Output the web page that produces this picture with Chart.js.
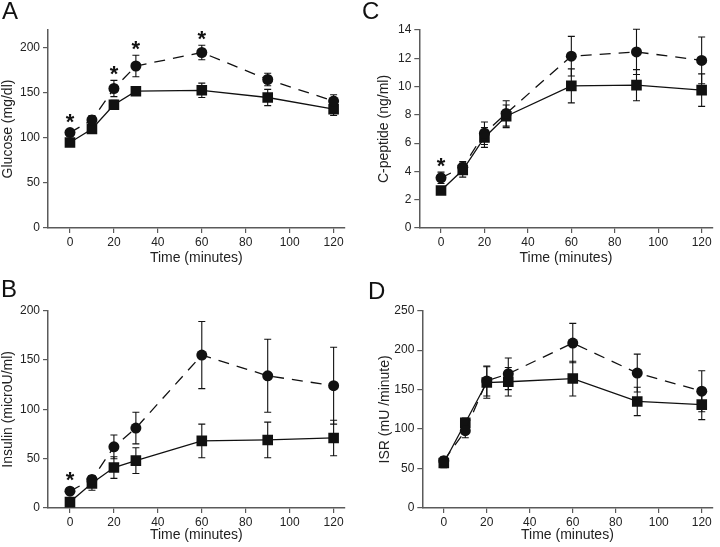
<!DOCTYPE html>
<html>
<head>
<meta charset="UTF-8">
<title>OGTT panels</title>
<script src="https://cdn.jsdelivr.net/npm/chart.js"></script>
<style>
    body { margin: 0; background: #fff; }
    #wrap { position: relative; width: 720px; height: 547px; overflow: hidden; font-family: "Liberation Sans", Arial, sans-serif; }
    .panel { position: absolute; }
    .panel canvas { display: block; }
    .tag { position: absolute; font-size: 24px; line-height: 1; color: #111; }
</style>
</head>
<body>
<div id="wrap">
    <div class="panel" style="left:0;top:0"><canvas id="cA" width="360" height="270"></canvas></div>
    <div class="panel" style="left:0;top:270px"><canvas id="cB" width="360" height="277"></canvas></div>
    <div class="panel" style="left:360px;top:0"><canvas id="cC" width="360" height="270"></canvas></div>
    <div class="panel" style="left:360px;top:270px"><canvas id="cD" width="360" height="277"></canvas></div>
    <div class="tag" style="left:2px;top:-1px">A</div>
    <div class="tag" style="left:1px;top:277px">B</div>
    <div class="tag" style="left:362px;top:-1px">C</div>
    <div class="tag" style="left:368px;top:279px">D</div>
</div>

<script>
    // sampling times (minutes) and x tick labels
    var times = [0, 10, 20, 30, 60, 90, 120];
    var timeTicks = [0, 20, 40, 60, 80, 100, 120];

    // A: glucose
    var glucoseCircle = [106, 120, 155, 180, 195, 165, 141];
    var glucoseCircleErr = [3, 5, 9, 12, 8, 7, 7];
    var glucoseSquare = [95, 110, 137, 152, 153, 145, 132];
    var glucoseSquareErr = [2, 3, 5, 3, 8, 9, 7];
    var glucoseTicks = [0, 50, 100, 150, 200];
    var glucoseStars = [0, 20, 30, 60];

    // B: insulin
    var insulinCircle = [17, 29, 62, 81, 155, 134, 124];
    var insulinCircleErr = [2, 4, 12, 16, 34, 37, 39];
    var insulinSquare = [6, 25, 41, 48, 68, 69, 71];
    var insulinSquareErr = [1, 7, 11, 13, 17, 18, 18];
    var insulinTicks = [0, 50, 100, 150, 200];
    var insulinStars = [0];

    // C: C-peptide
    var cpepCircle = [3.55, 4.3, 6.7, 8.1, 12.15, 12.45, 11.85];
    var cpepCircleErr = [0.4, 0.4, 0.8, 0.9, 1.4, 1.6, 1.65];
    var cpepSquare = [2.65, 4.1, 6.4, 7.9, 10.05, 10.1, 9.75];
    var cpepSquareErr = [0.15, 0.5, 0.7, 0.8, 1.2, 1.1, 1.15];
    var cpepTicks = [0, 2, 4, 6, 8, 10, 12, 14];
    var cpepStars = [0];

    // D: insulin secretion rate
    var isrCircle = [60, 98, 161, 170, 209, 171, 148];
    var isrCircleErr = [5, 9, 19, 20, 25, 24, 26];
    var isrSquare = [57, 108, 159, 160, 164, 135, 131];
    var isrSquareErr = [6, 6, 20, 18, 22, 18, 19];
    var isrTicks = [0, 50, 100, 150, 200, 250];
    var isrStars = [];

    var axisColor = '#5a5a5a';
    var textColor = '#222';
    var ink = '#111';
    var fontFam = '"Liberation Sans", Arial, sans-serif';

    function toXY(vals) {
        return vals.map(function (v, i) { return { x: times[i], y: v }; });
    }

    // error bars + significance stars, positioned through the chart scales
    var errPlugin = {
        id: 'errbars',
        beforeDatasetsDraw: function (chart, args, opts) {
            var xs = chart.scales.x, ys = chart.scales.y, ctx = chart.ctx;
            ctx.save();
            ctx.strokeStyle = ink;
            ctx.lineWidth = 1.1;
            opts.sets.forEach(function (s) {
                s.vals.forEach(function (v, j) {
                    var x = xs.getPixelForValue(times[j]);
                    var yt = ys.getPixelForValue(v + s.err[j]);
                    var yb = ys.getPixelForValue(v - s.err[j]);
                    ctx.beginPath();
                    ctx.moveTo(x, yt); ctx.lineTo(x, yb);
                    ctx.moveTo(x - 3.5, yt); ctx.lineTo(x + 3.5, yt);
                    ctx.moveTo(x - 3.5, yb); ctx.lineTo(x + 3.5, yb);
                    ctx.stroke();
                });
            });
            ctx.restore();
        },
        afterDatasetsDraw: function (chart, args, opts) {
            var xs = chart.scales.x, ys = chart.scales.y, ctx = chart.ctx;
            var s = opts.sets[0];
            ctx.save();
            ctx.fillStyle = ink;
            ctx.font = 'bold 22px ' + fontFam;
            ctx.textAlign = 'center';
            ctx.textBaseline = 'alphabetic';
            opts.stars.forEach(function (t) {
                var j = times.indexOf(t);
                var x = xs.getPixelForValue(t);
                var top = Math.min(ys.getPixelForValue(s.vals[j] + s.err[j]), ys.getPixelForValue(s.vals[j]) - 5);
                ctx.fillText('*', x, top + 1);
            });
            ctx.restore();
        }
    };

    function makePanel(id, p) {
        new Chart(document.getElementById(id), {
            type: 'line',
            data: {
                datasets: [{
                    data: toXY(p.circle),
                    borderColor: ink,
                    borderWidth: 1.3,
                    borderDash: [11, 8],
                    pointStyle: 'circle',
                    pointRadius: 5.5,
                    pointBackgroundColor: ink,
                    pointBorderWidth: 0
                }, {
                    data: toXY(p.square),
                    borderColor: ink,
                    borderWidth: 1.3,
                    pointStyle: 'rect',
                    pointRadius: 7.5,
                    pointBackgroundColor: ink,
                    pointBorderWidth: 0
                }]
            },
            options: {
                responsive: false,
                animation: false,
                devicePixelRatio: 1,
                layout: { padding: p.pad },
                plugins: {
                    legend: { display: false },
                    tooltip: { enabled: false },
                    errbars: {
                        sets: [{ vals: p.circle, err: p.circleErr }, { vals: p.square, err: p.squareErr }],
                        stars: p.stars
                    }
                },
                scales: {
                    x: {
                        type: 'linear',
                        min: -10,
                        max: 125,
                        afterBuildTicks: function (s) { s.ticks = timeTicks.map(function (v) { return { value: v }; }); },
                        afterFit: function (s) { s.height = p.xh; },
                        grid: { drawOnChartArea: false, tickLength: 5, color: axisColor, lineWidth: 1.2 },
                        border: { color: axisColor, width: 1.5 },
                        ticks: { color: textColor, font: { family: fontFam, size: 12 }, padding: 2, maxRotation: 0, autoSkip: false },
                        title: { display: true, text: 'Time (minutes)', color: textColor, font: { family: fontFam, size: 14 }, padding: { top: 0, bottom: p.tpad } }
                    },
                    y: {
                        min: p.ymin,
                        max: p.ymax,
                        afterBuildTicks: function (s) { s.ticks = p.yticks.map(function (v) { return { value: v }; }); },
                        afterFit: function (s) { s.width = p.yw; },
                        grid: { drawOnChartArea: false, tickLength: 5, color: axisColor, lineWidth: 1.2 },
                        border: { color: axisColor, width: 1.5 },
                        ticks: { color: textColor, font: { family: fontFam, size: 12 }, padding: 3, autoSkip: false },
                        title: { display: true, text: p.ytitle, color: textColor, font: { family: fontFam, size: 14 }, padding: { top: 0, bottom: 0 } }
                    }
                }
            },
            plugins: [errPlugin]
        });
    }

    makePanel('cA', {
        circle: glucoseCircle, circleErr: glucoseCircleErr, square: glucoseSquare, squareErr: glucoseSquareErr,
        stars: glucoseStars, yticks: glucoseTicks, ymin: 0, ymax: 220, ytitle: 'Glucose (mg/dl)',
        pad: { left: 0, top: 30, right: 15.4, bottom: 0 }, yw: 48, xh: 42, tpad: 3.6
    });
    makePanel('cB', {
        circle: insulinCircle, circleErr: insulinCircleErr, square: insulinSquare, squareErr: insulinSquareErr,
        stars: insulinStars, yticks: insulinTicks, ymin: 0, ymax: 200, ytitle: 'Insulin (microU/ml)',
        pad: { left: 0, top: 40.7, right: 15.4, bottom: 0 }, yw: 48, xh: 39, tpad: 3
    });
    makePanel('cC', {
        circle: cpepCircle, circleErr: cpepCircleErr, square: cpepSquare, squareErr: cpepSquareErr,
        stars: cpepStars, yticks: cpepTicks, ymin: 0, ymax: 14, ytitle: 'C-peptide (ng/ml)',
        pad: { left: 16, top: 30, right: 3.7, bottom: 0 }, yw: 43.3, xh: 42, tpad: 3.6
    });
    makePanel('cD', {
        circle: isrCircle, circleErr: isrCircleErr, square: isrSquare, squareErr: isrSquareErr,
        stars: isrStars, yticks: isrTicks, ymin: 0, ymax: 250, ytitle: 'ISR (mU /minute)',
        pad: { left: 16.6, top: 40.7, right: 0, bottom: 0 }, yw: 45.7, xh: 39, tpad: 3
    });
</script>
</body>
</html>
